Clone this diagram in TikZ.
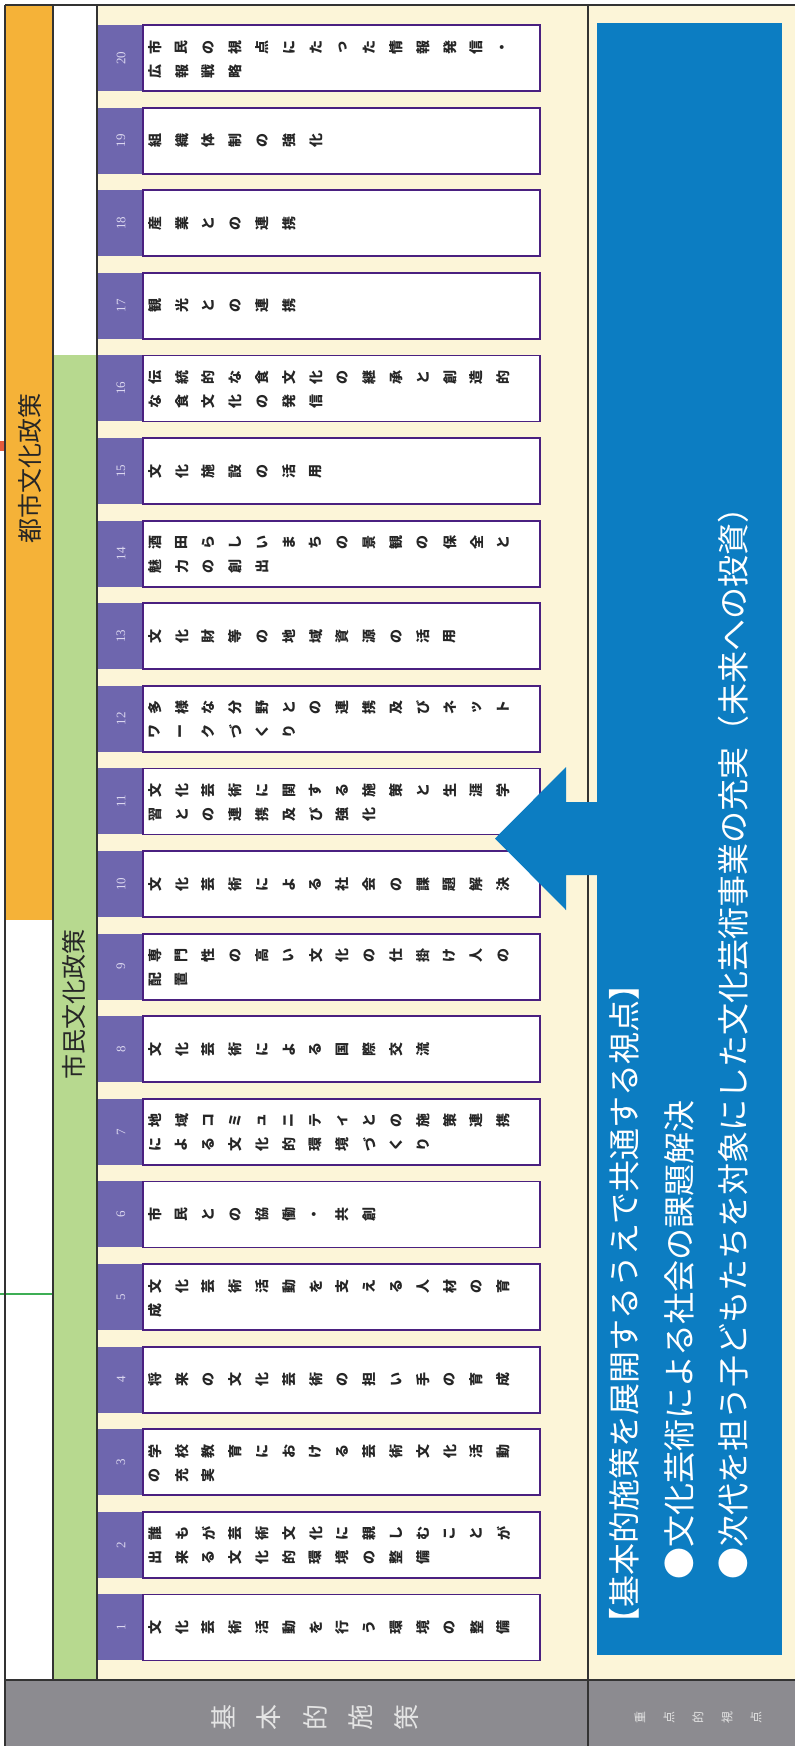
\documentclass[tikz,border=0pt]{standalone}
\usepackage{fontspec}
\newfontfamily\jp{Noto Sans CJK JP}
\newfontfamily\numfont{Liberation Serif}
\definecolor{cream}{HTML}{FCF5D8}
\definecolor{orangeband}{HTML}{F5B238}
\definecolor{greenband}{HTML}{B7D98F}
\definecolor{numpurple}{HTML}{6E66AE}
\definecolor{boxpurple}{HTML}{4A2080}
\definecolor{numtxt}{HTML}{DCD8F0}
\definecolor{bluebox}{HTML}{0C7DC2}
\definecolor{grayband}{HTML}{8C8B90}
\definecolor{graytxt}{HTML}{E4E4E4}
\definecolor{markgreen}{HTML}{3DAE55}
\definecolor{markred}{HTML}{E55B3C}
\newcount\chn
\newcommand\rotline[5]{%
  \tikzset{curglyph/.style={#1}}%
  \def\rlx{#2}\def\rly{#3}\def\rlp{#4}%
  \rotloop#5\relax}
\def\rotloop#1{\ifx\relax#1\else
  \global\advance\chn by 1\relax
  \node[curglyph] (g\the\chn) at (\rlx,\rly) {#1};%
  \pgfmathsetmacro\rlx{\rlx+\rlp}%
  \expandafter\rotloop\fi}
\newcommand\policy[3]{%
  \pgfmathsetmacro\T{25+(20-#1)*82.6}%
  \pgfmathsetmacro\C{\T+33}%
  \node[numcell] (n#1) at (120.5,\C) {};
  \node[itembox] (b#1) at (341.5,\C) {};
  \node[numtext] (t#1) at (121,\C) {#1};
  \if\relax\detokenize{#3}\relax
    \rotline{glyph}{155}{\C}{26.8}{#2}%
  \else
    \pgfmathsetmacro\La{\T+22}\pgfmathsetmacro\Lb{\T+46}%
    \rotline{glyph}{155}{\La}{26.8}{#2}%
    \rotline{glyph}{155}{\Lb}{26.8}{#3}%
  \fi}
\begin{document}
\begin{tikzpicture}[x=1pt,y=-1pt,
  numcell/.style={fill=numpurple, draw=none, minimum width=45pt, minimum height=66pt, inner sep=0pt},
  itembox/.style={fill=white, draw=boxpurple, line width=1.8pt, minimum width=397pt, minimum height=66pt, inner sep=0pt},
  numtext/.style={rotate=90, inner sep=0pt, text=numtxt, font=\numfont\fontsize{13}{13}\selectfont},
  glyph/.style={rotate=90, inner sep=0pt, text=black!85, font=\jp\bfseries\fontsize{14}{14}\selectfont},
  gglyph/.style={rotate=90, inner sep=0pt, text=graytxt, font=\jp\fontsize{26}{26}\selectfont},
  sglyph/.style={rotate=90, inner sep=0pt, text=graytxt, font=\jp\fontsize{12}{12}\selectfont},
  bandlabel/.style={rotate=90, inner sep=0pt, text=black!85, font=\jp\fontsize{25}{25}\selectfont},
  bluetext/.style={rotate=90, anchor=west, inner sep=0pt, text=white, font=\jp\fontsize{32}{32}\selectfont},
  frameline/.style={draw=black!80, line width=1.2pt}]
\useasboundingbox (0,0) rectangle (795,1746);
\fill[white] (0,0) rectangle (795,1746);
% backgrounds
\fill[cream] (97,5) rectangle (795,1680);
\fill[orangeband] (5,5) rectangle (53,920);
\fill[greenband] (53,355) rectangle (97,1680);
\fill[grayband] (5,1680) rectangle (795,1746);
% scan marks
\fill[markred] (0,441) rectangle (4,451);
\draw[markgreen, line width=2.5pt] (0,1294) -- (52,1294);
% frame lines
\draw[frameline] (5,5) -- (795,5);
\draw[frameline] (5,5) -- (5,1746);
\draw[frameline] (53,5) -- (53,1680);
\draw[frameline] (97,5) -- (97,1680);
\draw[frameline] (588,5) -- (588,1746);
\draw[frameline] (5,1680) -- (795,1680);
% band labels
\node[bandlabel] (toshi) at (30,468) {都市文化政策};
\node[bandlabel] (shimin) at (74,1004) {市民文化政策};
% items
\policy{20}{市民の視点にたった情報発信・}{広報戦略}
\policy{19}{組織体制の強化}{}
\policy{18}{産業との連携}{}
\policy{17}{観光との連携}{}
\policy{16}{伝統的な食文化の継承と創造的}{な食文化の発信}
\policy{15}{文化施設の活用}{}
\policy{14}{酒田らしいまちの景観の保全と}{魅力の創出}
\policy{13}{文化財等の地域資源の活用}{}
\policy{12}{多様な分野との連携及びネット}{ワークづくり}
\policy{11}{文化芸術に関する施策と生涯学}{習との連携及び強化}
\policy{10}{文化芸術による社会の課題解決}{}
\policy{9}{専門性の高い文化の仕掛け人の}{配置}
\policy{8}{文化芸術による国際交流}{}
\policy{7}{地域コミュニティとの施策連携}{による文化的環境づくり}
\policy{6}{市民との協働・共創}{}
\policy{5}{文化芸術活動を支える人材の育}{成}
\policy{4}{将来の文化芸術の担い手の育成}{}
\policy{3}{学校教育における芸術文化活動}{の充実}
\policy{2}{誰もが芸術文化に親しむことが}{出来る文化的環境の整備}
\policy{1}{文化芸術活動を行う環境の整備}{}
% blue box and arrow
\node[fill=bluebox, minimum width=185pt, minimum height=1632pt, inner sep=0pt] (view) at (689.5,839) {};
\fill[bluebox] (597,802) -- (566,802) -- (566,767) -- (495,838.5) -- (566,910) -- (566,875) -- (597,875) -- cycle;
\node[bluetext] (v1) at (624,1640) {【基本的施策を展開するうえで共通する視点】};
\node[bluetext] (v2) at (679,1580) {●文化芸術による社会の課題解決};
\node[bluetext] (v3) at (733,1580) {●次代を担う子どもたちを対象にした文化芸術事業の充実（未来への投資）};
% gray band labels
\rotline{gglyph}{223}{1717}{46}{基本的施策}
\rotline{sglyph}{640}{1717}{29}{重点的視点}
\end{tikzpicture}
\end{document}
